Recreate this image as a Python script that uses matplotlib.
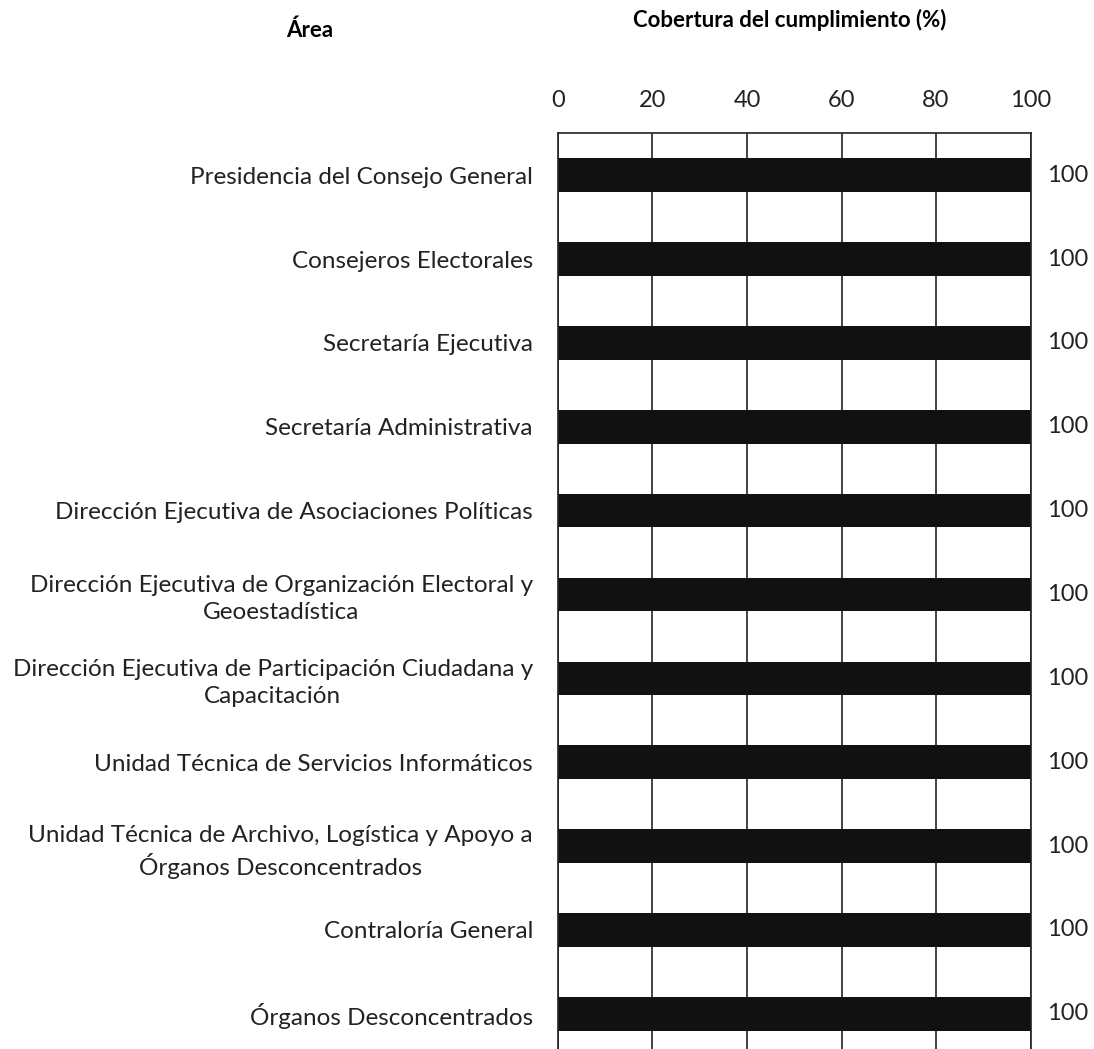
import matplotlib.pyplot as plt

# datos
areas = [
    "Presidencia del Consejo General",
    "Consejeros Electorales",
    "Secretaría Ejecutiva",
    "Secretaría Administrativa",
    "Dirección Ejecutiva de Asociaciones Políticas",
    "Dirección Ejecutiva de Organización Electoral y\nGeoestadística",
    "Dirección Ejecutiva de Participación Ciudadana y\nCapacitación",
    "Unidad Técnica de Servicios Informáticos",
    "Unidad Técnica de Archivo, Logística y Apoyo a\nÓrganos Desconcentrados",
    "Contraloría General",
    "Órganos Desconcentrados",
]
cobertura = [100, 100, 100, 100, 100, 100, 100, 100, 100, 100, 100]
x_ticks = [0, 20, 40, 60, 80, 100]

plt.rcParams['font.family'] = ['Lato', 'DejaVu Sans']

fig = plt.figure(figsize=(10.94, 10.49), dpi=100)
ax = fig.add_axes([0.510, 0.0, 0.432, 0.873])

pos = list(range(len(areas)))
ax.barh(pos, cobertura, height=0.40, color='#111111')

ax.set_xlim(0, 100)
ax.set_ylim(len(areas) - 1 + 0.42, -0.50)
ax.set_xticks(x_ticks)
ax.xaxis.tick_top()
ax.tick_params(axis='x', length=0, pad=16, labelsize=17, colors='#222222')
ax.tick_params(axis='y', length=0, pad=18, labelsize=17.5, colors='#222222')
ax.set_yticks(pos)
ax.set_yticklabels(areas)
for lab in ax.get_yticklabels():
    lab.set_multialignment('center')
    lab.set_linespacing(1.35)

ax.grid(axis='x', color='#222222', linewidth=1.2)
ax.set_axisbelow(True)
for s in ['top', 'left', 'right']:
    ax.spines[s].set_color('#222222')
    ax.spines[s].set_linewidth(1.2)
ax.spines['bottom'].set_visible(False)

# etiquetas de valor
for p, v in zip(pos, cobertura):
    ax.text(v + 3.4, p, str(v), va='center', ha='left', fontsize=17, color='#222222')

fig.text(0.283, 0.971, "Área", ha='center', va='center', fontsize=16, fontweight='bold')
fig.text(0.722, 0.981, "Cobertura del cumplimiento (%)", ha='center', va='center',
         fontsize=16, fontweight='bold')

fig.savefig('out.png', dpi=100)
